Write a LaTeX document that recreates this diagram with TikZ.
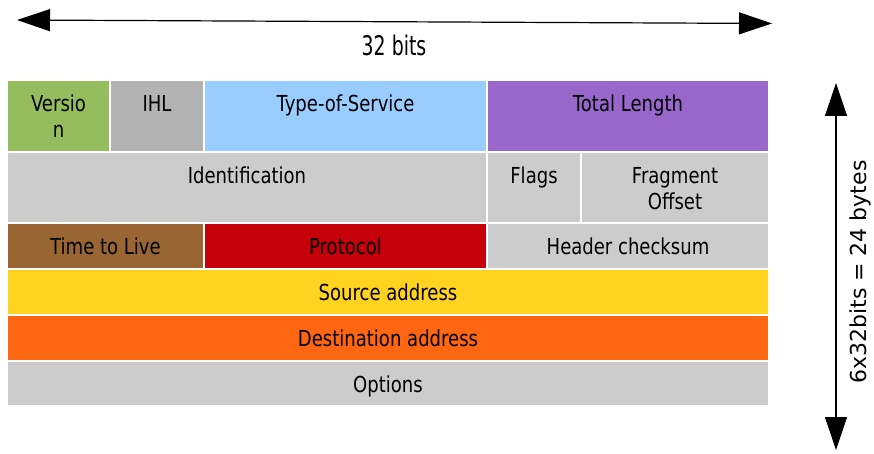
\documentclass[tikz,border=0pt]{standalone}
\usepackage{fontspec}
\setmainfont{DejaVu Sans}
\newfontfamily\narrowfont[FakeStretch=0.82]{DejaVu Sans}
\newfontfamily\dimfont[FakeStretch=0.7]{DejaVu Sans}
\usepackage{xcolor}
\usepackage{tikz}
\usetikzlibrary{arrows.meta}
\definecolor{vergreen}{HTML}{95BD5E}
\definecolor{ihlgray}{HTML}{B3B3B3}
\definecolor{tosblue}{HTML}{99CCFF}
\definecolor{lenpurple}{HTML}{9966CC}
\definecolor{fieldgray}{HTML}{CCCCCC}
\definecolor{ttlbrown}{HTML}{996633}
\definecolor{protored}{HTML}{C5000B}
\definecolor{srcyellow}{HTML}{FFD320}
\definecolor{dstorange}{HTML}{FF6611}

\begin{document}
\begin{tikzpicture}[x=1pt, y=-1pt,
  cell/.style={draw=white, line width=2pt, anchor=north west, outer sep=0pt, inner sep=0pt},
  celltext/.style={anchor=north, yshift=-15pt, inner sep=0pt, align=center, font=\narrowfont\fontsize{22}{26}\selectfont},
  dimarrow/.style={{Triangle[length=33pt, width=22pt]}-{Triangle[length=33pt, width=22pt]}, line width=1.2pt}
]
  \useasboundingbox (0,0) rectangle (874,454);

  % header rows
  \node[cell, fill=vergreen, minimum width=103pt, minimum height=72pt, label={[celltext]north:{Versio\\n}}] (version) at (7,80) {};
  \node[cell, fill=ihlgray, minimum width=94pt, minimum height=72pt, label={[celltext]north:IHL}] (ihl) at (110,80) {};
  \node[cell, fill=tosblue, minimum width=283pt, minimum height=72pt, label={[celltext]north:Type-of-Service}] (tos) at (204,80) {};
  \node[cell, fill=lenpurple, minimum width=282pt, minimum height=72pt, label={[celltext]north:Total Length}] (totlen) at (487,80) {};

  \node[cell, fill=fieldgray, minimum width=480pt, minimum height=71pt, label={[celltext]north:Identification}] (ident) at (7,152) {};
  \node[cell, fill=fieldgray, minimum width=94pt, minimum height=71pt, label={[celltext]north:Flags}] (flags) at (487,152) {};
  \node[cell, fill=fieldgray, minimum width=188pt, minimum height=71pt, label={[celltext]north:{Fragment\\Offset}}] (fragoff) at (581,152) {};

  \node[cell, fill=ttlbrown, minimum width=197pt, minimum height=46pt, label={[celltext]north:Time to Live}] (ttl) at (7,223) {};
  \node[cell, fill=protored, minimum width=283pt, minimum height=46pt, label={[celltext]north:Protocol}] (proto) at (204,223) {};
  \node[cell, fill=fieldgray, minimum width=282pt, minimum height=46pt, label={[celltext]north:Header checksum}] (hcheck) at (487,223) {};

  \node[cell, fill=srcyellow, minimum width=762pt, minimum height=46pt, label={[celltext]north:Source address}] (srcaddr) at (7,269) {};
  \node[cell, fill=dstorange, minimum width=762pt, minimum height=46pt, label={[celltext]north:Destination address}] (dstaddr) at (7,315) {};
  \node[cell, fill=fieldgray, minimum width=762pt, minimum height=45pt, label={[celltext]north:Options}] (options) at (7,361) {};

  % dimensions
  \coordinate (wleft) at (17,20);
  \coordinate (wright) at (772,23.5);
  \draw[dimarrow] (wleft) -- (wright);
  \node[font=\dimfont\fontsize{27}{30}\selectfont] (bitslabel) at (394,45) {32 bits};

  \coordinate (htop) at (836,83);
  \coordinate (hbot) at (836,450);
  \draw[dimarrow] (htop) -- (hbot);
  \node[rotate=90, font=\fontsize{22}{26}\selectfont] (byteslabel) at (860,272) {6x32bits = 24 bytes};
\end{tikzpicture}
\end{document}
